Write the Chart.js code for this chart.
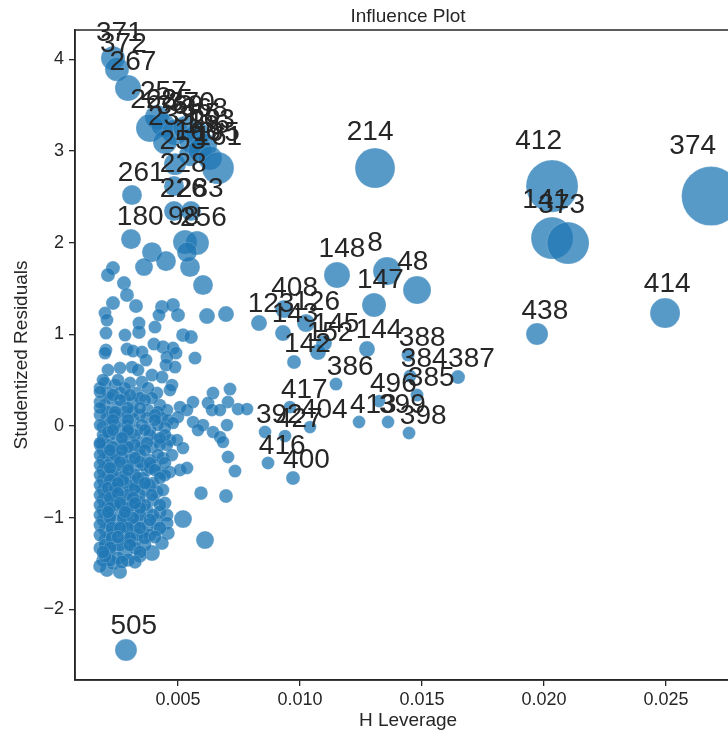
<!DOCTYPE html>
<html>
<head>
<meta charset="utf-8">
<script src="https://cdn.jsdelivr.net/npm/chart.js@4.4.1/dist/chart.umd.min.js"></script>
<style>
  html, body { margin: 0; padding: 0; overflow: hidden; background: #ffffff; }
  #wrap { width: 750px; height: 731px; }
  canvas { display: block; }
</style>
</head>
<body>
<div id="wrap"><canvas id="influence" width="750" height="731"></canvas></div>
<script>
// Observations flagged for large studentized residual or high leverage
const flagLabels = ['371','372','267','257','268','225','369','370','365','368','163','233','166','186','195','253','161',
  '261','228','226','283','98','256','180','214','412','374','141','373','414','438','148','8','48','147','408','123',
  '143','126','145','152','142','144','388','384','387','385','496','386','417','404','413','399','392','427','398',
  '416','400','505'];
const flagLeverage = [0.002336,0.002500,0.002951,0.004139,0.003852,0.004385,0.004877,0.005287,0.005574,0.005820,0.006107,0.004467,0.005492,0.005902,0.006311,0.004877,0.006639,
  0.003115,0.004836,0.004836,0.005533,0.005287,0.005779,0.003074,0.013074,0.020328,0.026844,0.020328,0.020984,0.024959,0.019713,0.011516,0.013566,0.014795,0.013033,0.009344,0.008320,
  0.009303,0.010246,0.010984,0.010738,0.009754,0.012746,0.014426,0.014508,0.016475,0.014795,0.013238,0.011475,0.009590,0.010410,0.012418,0.013607,0.008566,0.009385,0.014467,
  0.008689,0.009713,0.002869];
const flagResid = [4.013,3.893,3.686,3.370,3.250,3.282,3.206,3.250,3.119,3.184,3.064,3.097,2.955,3.010,2.923,2.857,2.814,
  2.519,2.617,2.345,2.345,2.007,1.996,2.039,2.814,2.617,2.508,2.050,1.996,1.232,1.003,1.647,1.690,1.483,1.320,1.276,1.123,
  1.014,1.123,0.905,0.807,0.698,0.840,0.774,0.545,0.534,0.338,0.273,0.458,0.207,-0.011,0.044,0.044,-0.065,-0.109,-0.076,
  -0.403,-0.567,-2.443];
const flagCooks = [0.0176,0.0176,0.0218,0.0176,0.0264,0.0176,0.0218,0.0176,0.0218,0.0176,0.0176,0.0176,0.0137,0.0176,0.0176,0.0137,0.0365,
  0.0102,0.0102,0.0102,0.0102,0.0176,0.0176,0.0102,0.0607,0.1073,0.1400,0.0677,0.0677,0.0313,0.0137,0.0218,0.0264,0.0264,0.0176,0.0070,0.0041,
  0.0041,0.0070,0.0041,0.0041,0.0016,0.0041,0.0004,0.0004,0.0016,0.0004,0.0002,0.0004,0.0002,0.0002,0.0002,0.0002,0.0002,0.0002,0.0004,
  0.0004,0.0016,0.0137];

// All remaining observations
const otherLeverage = [
  0.003934,0.004508,0.003607,0.005492,0.005369,0.002336,
  0.002131,0.006025,0.002787,0.002910,0.002336,0.003279,
  0.004344,0.004795,0.005000,0.004221,0.006189,0.006967,
  0.002008,0.002090,0.003402,0.004057,0.003402,0.002049,
  0.002828,0.005205,0.005533,0.004016,0.004385,0.004795,
  0.002910,0.003156,0.003525,0.002049,0.002008,0.004918,
  0.004549,0.005697,0.003689,0.004508,0.003115,0.004877,
  0.002623,0.002131,0.003361,0.003934,0.004344,0.002008,
  0.002418,0.003033,0.003525,0.004754,0.002131,0.002623,
  0.003320,0.004139,0.004672,0.006434,0.007131,0.005615,
  0.006230,0.007049,0.002008,0.002500,0.003156,0.004262,
  0.005082,0.004549,0.005369,0.003770,0.004180,0.006393,
  0.006721,0.007459,0.007828,0.005000,0.002090,0.002705,
  0.003156,0.003730,0.004344,0.004590,0.005615,0.006025,
  0.007008,0.004795,0.005820,0.006434,0.001926,0.002623,
  0.003320,0.003852,0.004467,0.006721,0.006844,0.001926,
  0.002500,0.003033,0.003525,0.004139,0.004672,0.004959,
  0.001926,0.002500,0.003033,0.003443,0.003934,0.004549,
  0.005205,0.007049,0.001926,0.002336,0.003033,0.003852,
  0.004385,0.007336,0.001926,0.002336,0.002746,0.003238,
  0.003730,0.004262,0.004672,0.005082,0.005369,0.001926,
  0.002500,0.003033,0.003566,0.003975,0.001926,0.002336,
  0.002746,0.003156,0.003648,0.004139,0.005943,0.006967,
  0.001926,0.002336,0.002910,0.003443,0.003975,0.004467,
  0.001926,0.002500,0.003156,0.003730,0.004262,0.004549,
  0.005205,0.001926,0.002500,0.002951,0.003443,0.004139,
  0.004549,0.002008,0.002500,0.003033,0.003566,0.004139,
  0.004590,0.006107,0.002008,0.002910,0.003238,0.004344,
  0.002213,0.002828,0.003934,0.002090,0.002336,0.002623,
  0.002213,0.002828,0.002131,0.002828,0.002213,0.002910,
  0.002213,0.002828,0.002131,0.002787,0.002131,0.002705,
  0.002131,0.002541,0.002131,0.002787,0.002131,0.002541,
  0.002131,0.002541,0.002131,0.002705,0.002213,0.002787,
  0.002213,0.002705,0.002213,0.002787,0.002418,0.001803,0.002541,0.001926,
  0.001803,0.002828,0.003770,
  0.003443,0.003934,0.001803,
  0.001803,0.002418,0.003443,0.004057,
  0.001803,0.002418,0.003525,0.004180,
  0.001926,0.003238,0.003852,0.004467,
  0.001803,0.003238,0.004262,
  0.001803,0.002418,0.003443,0.004180,0.004754,
  0.001803,0.002951,0.003566,0.004057,
  0.001803,0.002336,0.003238,0.004467,
  0.001803,0.002951,0.003443,0.003852,
  0.001803,0.002951,0.003443,0.003934,
  0.001803,0.002418,0.003156,0.003648,0.004262,
  0.001803,0.003443,0.003975,
  0.001803,0.003238,0.003770,
  0.001803,0.003320,0.003852,
  0.002008,0.002623,0.003648,
  0.002213,0.002951,0.001803,
  0.001803,
  0.002418,0.003156,
  0.002131,0.002951,
  0.002336,0.002951,
  0.002623,0.003443,
  0.002213,0.003852,
  0.002213,0.002746,
  0.002131,0.002418,0.003238,
  0.002213,0.003156,
  0.002213,0.002951,0.003443,
  0.002213,0.002746,0.003156,
  0.002295,0.002951,
  0.002295,0.003033,0.003648,
  0.002213,0.003238,
  0.002008,0.003443,
  0.001926,0.002541,
  0.002336,0.003033,
  0.002623,0.003648,
  0.001803,0.002951,0.003443,
  0.002336,0.002951,0.004057,
  0.002336,0.002951,0.003648,
  0.002705,0.004262,
  0.001803,0.003730,
  0.002213,0.002705,0.003648,
  0.003238,
  0.003852,0.004467,
  0.002951,0.004057,
  0.003361,0.004262,
  0.002541,0.003648,
  0.004385,
  0.002541,
  0.002623,0.003238,
  0.002131,0.002828,
  0.003852,
  0.002623,0.003443,0.004262,
  0.002541,0.004057,
  0.003033,
  0.001926,0.003443,
  0.002705,0.003238
];
const otherResid = [
  1.897,1.799,1.734,1.734,1.897,1.723,
  1.647,1.538,1.559,1.429,1.341,1.309,
  1.298,1.320,1.210,1.210,1.200,1.221,
  1.232,1.156,1.123,1.080,1.025,1.014,
  0.992,0.992,0.971,0.894,0.862,0.851,
  0.840,0.818,0.807,0.829,0.796,0.796,
  0.752,0.742,0.720,0.665,0.643,0.643,
  0.633,0.611,0.611,0.556,0.534,0.469,
  0.447,0.469,0.480,0.447,0.360,0.360,
  0.360,0.360,0.393,0.360,0.403,0.262,
  0.251,0.262,0.229,0.207,0.251,0.229,
  0.207,0.174,0.174,0.174,0.153,0.174,
  0.174,0.185,0.185,0.098,0.098,0.087,
  0.065,0.087,0.087,0.065,0.044,0.011,
  0.011,0.033,-0.044,-0.065,-0.011,-0.044,
  -0.044,-0.044,-0.022,-0.120,-0.174,-0.153,
  -0.153,-0.153,-0.174,-0.153,-0.153,-0.153,
  -0.262,-0.284,-0.284,-0.240,-0.229,-0.207,
  -0.240,-0.338,-0.371,-0.371,-0.371,-0.371,
  -0.349,-0.491,-0.480,-0.480,-0.502,-0.447,
  -0.480,-0.513,-0.502,-0.480,-0.458,-0.589,
  -0.589,-0.589,-0.567,-0.622,-0.698,-0.698,
  -0.698,-0.698,-0.698,-0.720,-0.731,-0.763,
  -0.807,-0.807,-0.807,-0.829,-0.807,-0.840,
  -0.916,-0.916,-0.938,-0.916,-0.938,-0.971,
  -1.014,-1.025,-1.025,-1.047,-1.025,-1.025,
  -1.058,-1.134,-1.134,-1.134,-1.156,-1.134,
  -1.167,-1.243,-1.243,-1.265,-1.243,-1.276,
  -1.352,-1.385,-1.385,-1.570,-1.494,-1.592,
  0.305,0.305,0.153,0.153,0.033,0.011,
  -0.098,-0.098,-0.207,-0.207,-0.316,-0.338,
  -0.425,-0.425,-0.534,-0.545,-0.643,-0.643,
  -0.752,-0.752,-0.862,-0.862,-0.971,-0.971,
  -1.080,-1.091,-1.189,-1.200,-1.298,-1.330,-1.439,-1.461,
  0.414,0.414,0.414,
  0.305,0.305,0.262,
  0.120,0.120,0.120,0.120,
  0.011,0.011,0.011,0.011,
  -0.098,-0.098,-0.098,-0.098,
  -0.207,-0.207,-0.207,
  -0.316,-0.316,-0.316,-0.316,-0.316,
  -0.425,-0.425,-0.425,-0.425,
  -0.534,-0.534,-0.534,-0.534,
  -0.643,-0.643,-0.643,-0.643,
  -0.752,-0.752,-0.752,-0.752,
  -0.862,-0.862,-0.862,-0.862,-0.862,
  -0.971,-0.971,-0.971,
  -1.080,-1.080,-1.080,
  -1.189,-1.189,-1.189,
  -1.298,-1.298,-1.298,
  -1.461,-1.461,-1.527,
  0.371,
  0.153,0.153,
  -0.065,-0.065,
  -0.229,-0.229,
  -0.393,-0.393,
  -0.458,-0.458,
  -0.589,-0.589,
  -0.676,-0.676,-0.676,
  -0.785,-0.785,
  -0.894,-0.894,-0.894,
  -1.003,-1.003,-1.003,
  -1.112,-1.112,
  -1.221,-1.221,-1.221,
  -1.330,-1.330,
  -1.418,-1.418,
  0.502,0.502,
  0.338,0.338,
  0.284,0.284,
  0.196,0.196,0.196,
  0.065,0.065,0.065,
  -0.044,-0.044,-0.044,
  -0.131,-0.131,
  -0.185,-0.185,
  -0.262,-0.262,-0.262,
  -0.349,
  -0.403,-0.403,
  -0.480,-0.480,
  -0.567,-0.567,
  -0.622,-0.622,
  -0.698,
  -0.731,
  -0.840,-0.840,
  -0.938,-0.938,
  -1.025,
  -1.112,-1.112,-1.112,
  -1.210,-1.210,
  -1.298,
  -1.374,-1.374,
  -1.483,-1.483
];
const otherCooks = [
  0.0102,0.0102,0.0070,0.0102,0.0102,0.0016,
  0.0016,0.0102,0.0016,0.0016,0.0016,0.0016,
  0.0016,0.0016,0.0016,0.0004,0.0041,0.0041,
  0.0004,0.0004,0.0005,0.0005,0.0012,0.0004,
  0.0004,0.0014,0.0014,0.0005,0.0012,0.0005,
  0.0004,0.0004,0.0004,0.0003,0.0003,0.0005,
  0.0005,0.0006,0.0004,0.0004,0.0003,0.0004,
  0.0003,0.0003,0.0003,0.0004,0.0004,0.0002,
  0.0002,0.0003,0.0003,0.0003,0.0002,0.0002,
  0.0003,0.0003,0.0003,0.0004,0.0004,0.0002,
  0.0003,0.0003,0.0001,0.0001,0.0002,0.0002,
  0.0002,0.0002,0.0002,0.0002,0.0002,0.0002,
  0.0002,0.0002,0.0002,0.0001,0.0001,0.0001,
  0.0001,0.0001,0.0001,0.0001,0.0001,0.0001,
  0.0001,0.0001,0.0001,0.0001,0.0000,0.0000,
  0.0000,0.0001,0.0001,0.0001,0.0001,0.0000,
  0.0000,0.0001,0.0001,0.0001,0.0001,0.0001,
  0.0001,0.0001,0.0001,0.0001,0.0001,0.0001,
  0.0002,0.0003,0.0001,0.0001,0.0001,0.0002,
  0.0002,0.0004,0.0001,0.0001,0.0001,0.0002,
  0.0002,0.0002,0.0002,0.0003,0.0003,0.0002,
  0.0002,0.0002,0.0002,0.0003,0.0002,0.0002,
  0.0002,0.0003,0.0003,0.0003,0.0012,0.0014,
  0.0003,0.0003,0.0003,0.0003,0.0004,0.0004,
  0.0003,0.0003,0.0004,0.0004,0.0004,0.0005,
  0.0070,0.0004,0.0004,0.0004,0.0005,0.0005,
  0.0006,0.0005,0.0005,0.0005,0.0006,0.0006,
  0.0012,0.0070,0.0005,0.0010,0.0010,0.0014,
  0.0012,0.0035,0.0041,0.0016,0.0016,0.0018,
  0.0001,0.0002,0.0001,0.0001,0.0000,0.0000,
  0.0000,0.0000,0.0000,0.0001,0.0001,0.0001,
  0.0001,0.0001,0.0001,0.0002,0.0002,0.0002,
  0.0002,0.0002,0.0003,0.0003,0.0003,0.0003,
  0.0004,0.0004,0.0004,0.0005,0.0006,0.0006,0.0010,0.0010,
  0.0002,0.0002,0.0003,
  0.0002,0.0002,0.0001,
  0.0001,0.0001,0.0001,0.0001,
  0.0000,0.0000,0.0000,0.0001,
  0.0000,0.0000,0.0001,0.0001,
  0.0001,0.0001,0.0001,
  0.0001,0.0001,0.0001,0.0002,0.0002,
  0.0001,0.0001,0.0002,0.0002,
  0.0001,0.0001,0.0002,0.0002,
  0.0002,0.0002,0.0002,0.0003,
  0.0002,0.0002,0.0003,0.0003,
  0.0003,0.0003,0.0003,0.0004,0.0004,
  0.0003,0.0004,0.0004,
  0.0004,0.0004,0.0005,
  0.0004,0.0005,0.0005,
  0.0005,0.0006,0.0008,
  0.0010,0.0012,0.0012,
  0.0002,
  0.0001,0.0001,
  0.0000,0.0000,
  0.0001,0.0001,
  0.0001,0.0002,
  0.0001,0.0002,
  0.0002,0.0002,
  0.0002,0.0002,0.0002,
  0.0002,0.0003,
  0.0003,0.0003,0.0003,
  0.0003,0.0004,0.0004,
  0.0004,0.0004,
  0.0005,0.0005,0.0006,
  0.0006,0.0007,
  0.0008,0.0008,
  0.0002,0.0002,
  0.0002,0.0002,
  0.0001,0.0002,
  0.0001,0.0001,0.0001,
  0.0001,0.0001,0.0001,
  0.0000,0.0000,0.0001,
  0.0000,0.0001,
  0.0000,0.0001,
  0.0001,0.0001,0.0001,
  0.0001,
  0.0002,0.0002,
  0.0001,0.0002,
  0.0002,0.0003,
  0.0002,0.0002,
  0.0003,
  0.0002,
  0.0003,0.0003,
  0.0003,0.0003,
  0.0005,
  0.0004,0.0005,0.0006,
  0.0005,0.0006,
  0.0006,
  0.0007,0.0008,
  0.0010,0.0010
];

// Axis ticks
const xTicks = [0.005, 0.010, 0.015, 0.020, 0.025];
const yTicks = [-2, -1, 0, 1, 2, 3, 4];

const FONT = '"Liberation Sans", Arial, sans-serif';
const INK = '#262626';
const DOT = 'rgba(31, 119, 180, 0.75)';

// Marker area grows linearly with Cook's distance
const R_MIN = 6.3, R_MAX = 29.5;
const allCooks = otherCooks.concat(flagCooks);
const cMin = Math.min(...allCooks), cMax = Math.max(...allCooks);
function markerRadius(c) {
  return Math.sqrt(R_MIN * R_MIN + (c - cMin) / (cMax - cMin) * (R_MAX * R_MAX - R_MIN * R_MIN));
}

const otherPoints = otherLeverage.map((h, i) => ({ x: h, y: otherResid[i], cook: otherCooks[i] }));
const flagPoints = flagLeverage.map((h, i) => ({ x: h, y: flagResid[i], cook: flagCooks[i], label: flagLabels[i] }));

const dotStyle = {
  backgroundColor: DOT,
  borderColor: 'rgba(255, 255, 255, 0.3)',
  borderWidth: 0.6,
  pointRadius: ctx => markerRadius(ctx.raw.cook),
  pointHoverRadius: ctx => markerRadius(ctx.raw.cook)
};

// Observation numbers, offset up-left of each marker by its size
const pointLabels = {
  id: 'pointLabels',
  afterDatasetsDraw(chart) {
    const meta = chart.getDatasetMeta(1);
    const ctx = chart.ctx;
    ctx.save();
    ctx.font = '28px ' + FONT;
    ctx.fillStyle = INK;
    ctx.textAlign = 'left';
    ctx.textBaseline = 'alphabetic';
    meta.data.forEach((el, i) => {
      const r = el.options.radius;
      const off = r * Math.SQRT2;
      ctx.fillText(flagPoints[i].label, el.x - off, el.y - off);
    });
    ctx.restore();
  }
};

// Frame around the plotting area (its right side runs past the visible edge)
const frame = {
  id: 'frame',
  afterDraw(chart) {
    const { left, top, right, bottom } = chart.chartArea;
    const ctx = chart.ctx;
    ctx.save();
    ctx.strokeStyle = INK;
    ctx.lineWidth = 1.5;
    ctx.strokeRect(left, top, right - left, bottom - top);
    ctx.restore();
  }
};

const tickGrid = { display: true, drawOnChartArea: false, drawTicks: true, tickLength: 6, color: INK, lineWidth: 1.3 };

new Chart(document.getElementById('influence'), {
  type: 'scatter',
  data: {
    datasets: [
      Object.assign({ data: otherPoints }, dotStyle),
      Object.assign({ data: flagPoints }, dotStyle)
    ]
  },
  options: {
    responsive: false,
    animation: false,
    devicePixelRatio: 1,
    layout: { autoPadding: false, padding: { left: 0, right: 9, top: 0, bottom: 0 } },
    plugins: {
      legend: { display: false },
      tooltip: { enabled: false },
      title: {
        display: true,
        text: 'Influence Plot',
        fullSize: false,
        color: INK,
        font: { family: FONT, size: 19, weight: 'normal', lineHeight: 1.2 },
        padding: { top: 5, bottom: 2.2 }
      }
    },
    scales: {
      x: {
        type: 'linear',
        min: 0.00078,
        max: 0.02807,
        afterBuildTicks: s => { s.ticks = xTicks.map(v => ({ value: v })); },
        afterFit: s => { s.height = 51; s.paddingLeft = 0; s.paddingRight = 0; },
        ticks: {
          callback: v => v.toFixed(3),
          color: INK,
          font: { family: FONT, size: 18 },
          padding: 3,
          maxRotation: 0,
          autoSkip: false
        },
        grid: tickGrid,
        border: { display: true, color: INK, width: 1.5 },
        title: {
          display: true,
          text: 'H Leverage',
          color: INK,
          font: { family: FONT, size: 19, lineHeight: 1 },
          padding: { top: 0, bottom: 0.5 }
        }
      },
      y: {
        type: 'linear',
        min: -2.77,
        max: 4.32,
        afterBuildTicks: s => { s.ticks = yTicks.map(v => ({ value: v })); },
        afterFit: s => { s.width = 75; s.paddingTop = 0; s.paddingBottom = 0; },
        ticks: {
          callback: v => (v < 0 ? '\u2212' + Math.abs(v) : String(v)),
          color: INK,
          font: { family: FONT, size: 18 },
          padding: 5,
          autoSkip: false
        },
        grid: tickGrid,
        border: { display: true, color: INK, width: 1.5 },
        title: {
          display: true,
          text: 'Studentized Residuals',
          color: INK,
          font: { family: FONT, size: 19, lineHeight: 1.2 },
          padding: { top: 10.6, bottom: 0 }
        }
      }
    }
  },
  plugins: [pointLabels, frame]
});
</script>
</body>
</html>
